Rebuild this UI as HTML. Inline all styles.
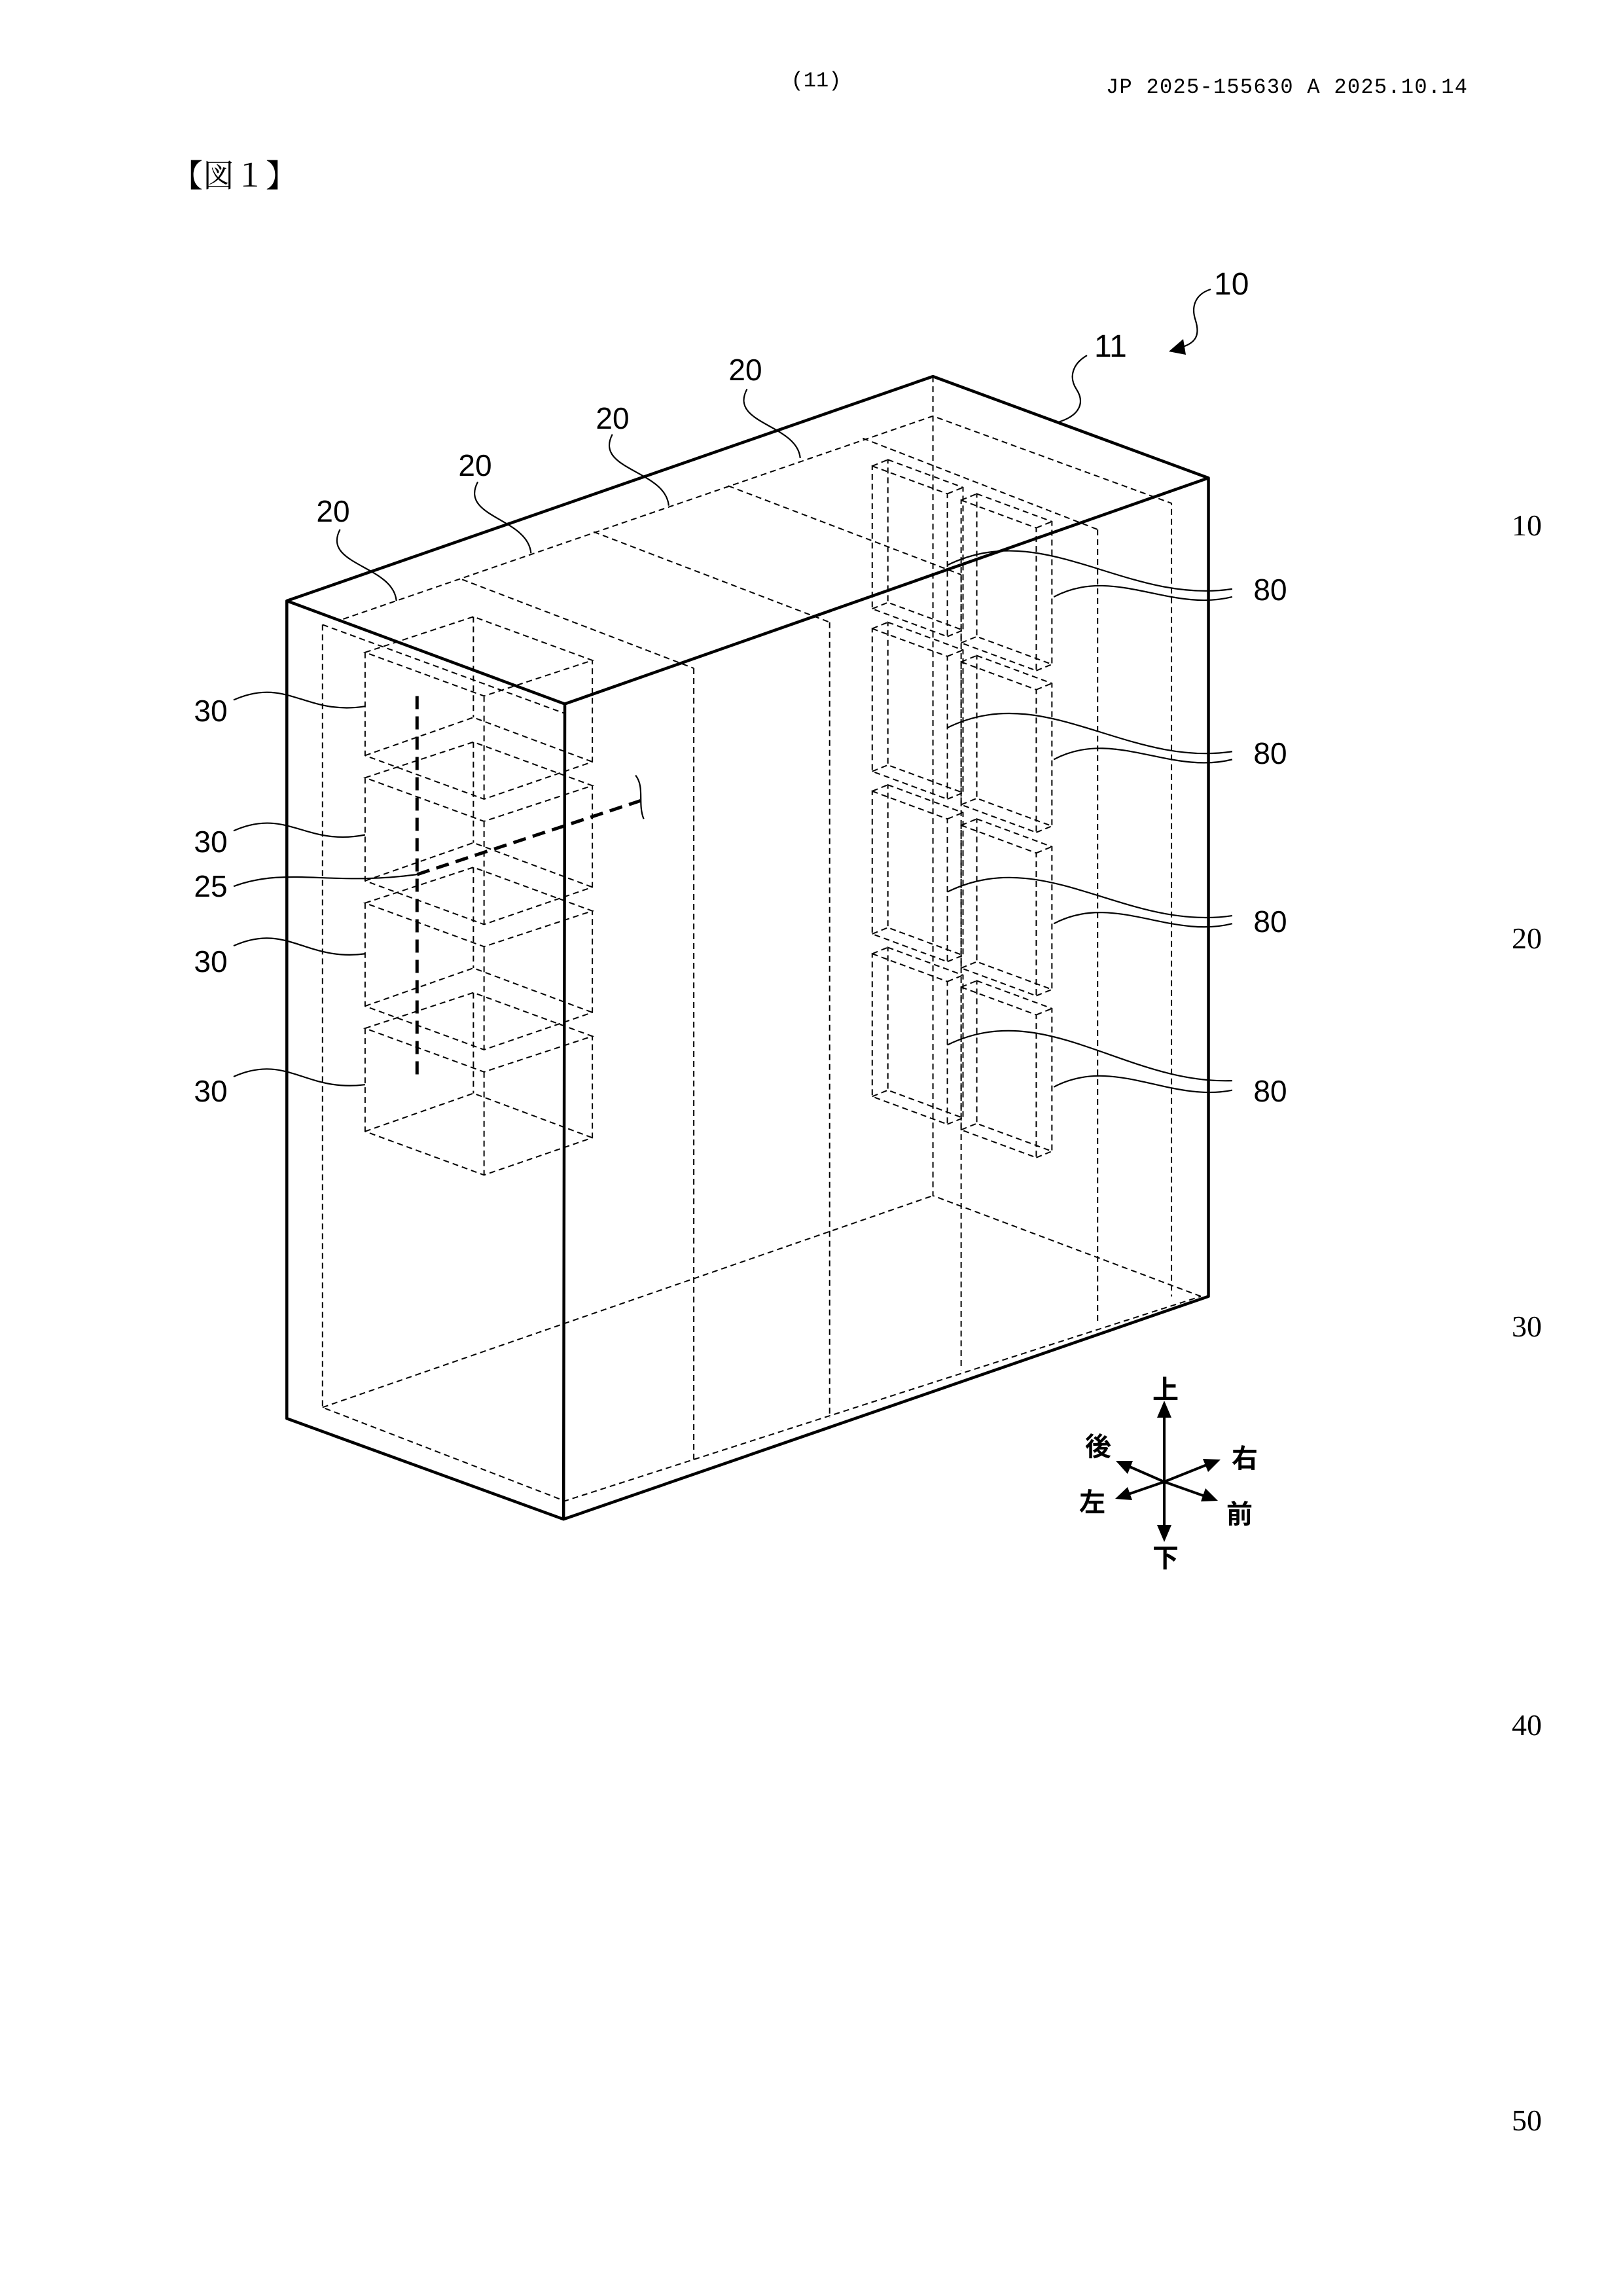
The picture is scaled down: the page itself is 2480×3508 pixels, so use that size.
<!DOCTYPE html>
<html><head><meta charset="utf-8"><style>
html,body{margin:0;padding:0;background:#fff}
svg{display:block}
text{font-family:"Liberation Sans","Noto Sans CJK JP",sans-serif;fill:#000}
.m{font-family:"Liberation Mono","Noto Sans CJK JP",monospace}
.s{font-family:"Liberation Serif","Noto Serif CJK SC",serif}
.d{fill:none;stroke:#000;stroke-width:2;stroke-dasharray:9 6;vector-effect:non-scaling-stroke}
.k{fill:none;stroke:#000;stroke-width:4.5;vector-effect:non-scaling-stroke;stroke-linejoin:round}
.l{fill:none;stroke:#000;stroke-width:2.2;vector-effect:non-scaling-stroke}
.b{fill:none;stroke:#000;stroke-width:5;stroke-dasharray:20 11;vector-effect:non-scaling-stroke}
</style></head><body>
<svg width="2480" height="3508" viewBox="0 0 2480 3508" xmlns="http://www.w3.org/2000/svg">
<defs>
<g id="lb">
<path class="d" d="M0,0 L173,-45 L363,10 L190,55 Z M0,0 V130 L190,185 L363,138 V10 M190,55 V185 M173,-45 V82 M0,130 L173,82 L363,138"/>
</g>
<g id="rb">
<path class="d" d="M0,0 L120,35 L120,215 L0,180 Z M25,-8 L145,27 L145,207 L25,172 Z M0,0 L25,-8 M120,35 L145,27 M120,215 L145,207 M0,180 L25,172"/>
</g>
</defs>

<text x="1247" y="132" class="m" font-size="32" text-anchor="middle">(11)</text>
<text x="1690" y="142" class="m" font-size="32" textLength="552" lengthAdjust="spacing">JP  2025-155630  A  2025.10.14</text>
<text x="262" y="285" class="s" font-size="48">【図１】</text>

<text x="2333" y="818" class="s" font-size="46" text-anchor="middle">10</text>
<text x="2333" y="1449" class="s" font-size="46" text-anchor="middle">20</text>
<text x="2333" y="2042" class="s" font-size="46" text-anchor="middle">30</text>
<text x="2333" y="2651" class="s" font-size="46" text-anchor="middle">40</text>
<text x="2333" y="3255" class="s" font-size="46" text-anchor="middle">50</text>

<g transform="translate(400,500) scale(0.9567,1.2117)">
<path class="d" d="M97,375 L484,487 M130,368 L1072,112 L1453,222 L1453,1222 M1072,62 V1095 L1500,1222 M97,375 V1362 L484,1480 L1500,1222 M97,1362 L1072,1095"/>
<path class="d" d="M690,430 V1430 M907,372 V1375 M1117,312 V1315 M1335,255 V1255 M320,318 L690,430 M530,258 L907,372 M745,200 L1117,312 M960,140 L1335,255"/>
<use href="#lb" x="165" y="410"/>
<use href="#lb" x="165" y="568"/>
<use href="#lb" x="165" y="726"/>
<use href="#lb" x="165" y="884"/>
<use href="#rb" x="975" y="175"/>
<use href="#rb" x="975" y="380"/>
<use href="#rb" x="975" y="585"/>
<use href="#rb" x="975" y="790"/>
<use href="#rb" x="1117" y="218"/>
<use href="#rb" x="1117" y="422"/>
<use href="#rb" x="1117" y="628"/>
<use href="#rb" x="1117" y="832"/>
<path class="b" d="M248,465 V948 M248,690 L605,597"/>
<path class="l" d="M597,565 C612,580 600,600 610,620"/>
<path class="k" d="M40,345 L484,475 L1512,190 L1072,62 Z M40,345 V1376 L482,1503 L1512,1222 V190 M484,475 L482,1503"/>
<path class="l" d="M125,255 C95,300 210,300 215,345 M345,195 C315,240 425,240 430,285 M560,135 C530,180 645,180 650,225 M775,78 C745,122 855,122 860,165"/>
<path class="l" d="M-45,470 C40,440 70,490 165,478 M-45,635 C40,605 70,655 165,640 M-45,780 C40,750 70,800 165,790 M-45,945 C40,915 70,965 165,955 M-45,705 C40,680 110,705 248,690"/>
<path class="l" d="M1095,300 C1250,240 1380,350 1550,330 M1265,340 C1360,300 1450,360 1550,340 M1095,505 C1250,445 1380,555 1550,535 M1265,545 C1360,505 1450,565 1550,545 M1095,712 C1250,652 1380,762 1550,742 M1265,752 C1360,712 1450,772 1550,752 M1095,905 C1250,845 1380,955 1550,950 M1265,958 C1360,918 1450,978 1550,962"/>
</g>

<text x="1855" y="450" font-size="48">10</text>
<text x="1672" y="545" font-size="48">11</text>
<path class="l" d="M1850,442 C1825,450 1820,470 1827,490 C1833,510 1830,525 1800,532"/>
<path d="M1786,537 L1808,518 L1812,542 Z" fill="#000"/>
<path class="l" d="M1661,543 C1640,555 1632,575 1645,595 C1658,615 1650,635 1617,645"/>
<text x="509" y="797" font-size="46" text-anchor="middle">20</text>
<text x="726" y="727" font-size="46" text-anchor="middle">20</text>
<text x="936" y="655" font-size="46" text-anchor="middle">20</text>
<text x="1139" y="581" font-size="46" text-anchor="middle">20</text>
<text x="322" y="1102" font-size="46" text-anchor="middle">30</text>
<text x="322" y="1302" font-size="46" text-anchor="middle">30</text>
<text x="322" y="1370" font-size="46" text-anchor="middle">25</text>
<text x="322" y="1485" font-size="46" text-anchor="middle">30</text>
<text x="322" y="1683" font-size="46" text-anchor="middle">30</text>
<text x="1957" y="917" font-size="46" text-anchor="middle" transform="translate(-16,0)">80</text>
<text x="1957" y="1167" font-size="46" text-anchor="middle" transform="translate(-16,0)">80</text>
<text x="1957" y="1424" font-size="46" text-anchor="middle" transform="translate(-16,0)">80</text>
<text x="1957" y="1683" font-size="46" text-anchor="middle" transform="translate(-16,0)">80</text>

<g transform="translate(-11,-18)">
<g stroke="#000" stroke-width="4" fill="none">
<line x1="1790" y1="2282" x2="1790" y2="2180"/>
<line x1="1790" y1="2282" x2="1790" y2="2350"/>
<line x1="1790" y1="2282" x2="1735" y2="2258"/>
<line x1="1790" y1="2282" x2="1855" y2="2256"/>
<line x1="1790" y1="2282" x2="1735" y2="2301"/>
<line x1="1790" y1="2282" x2="1852" y2="2304"/>
</g>
<g fill="#000">
<path d="M1790,2158 L1779,2184 L1801,2184 Z"/>
<path d="M1790,2374 L1779,2348 L1801,2348 Z"/>
<path d="M1716,2250 L1742,2250 L1734,2270 Z"/>
<path d="M1876,2248 L1849,2247 L1857,2267 Z"/>
<path d="M1715,2308 L1734,2290 L1741,2310 Z"/>
<path d="M1872,2311 L1846,2312 L1853,2292 Z"/>
</g>
<g font-size="40" font-weight="bold" text-anchor="middle">
<text x="1792" y="2155">上</text>
<text x="1792" y="2412">下</text>
<text x="1689" y="2242">後</text>
<text x="1680" y="2327">左</text>
<text x="1913" y="2260">右</text>
<text x="1905" y="2345">前</text>
</g>
</g>
</svg>
</body></html>
